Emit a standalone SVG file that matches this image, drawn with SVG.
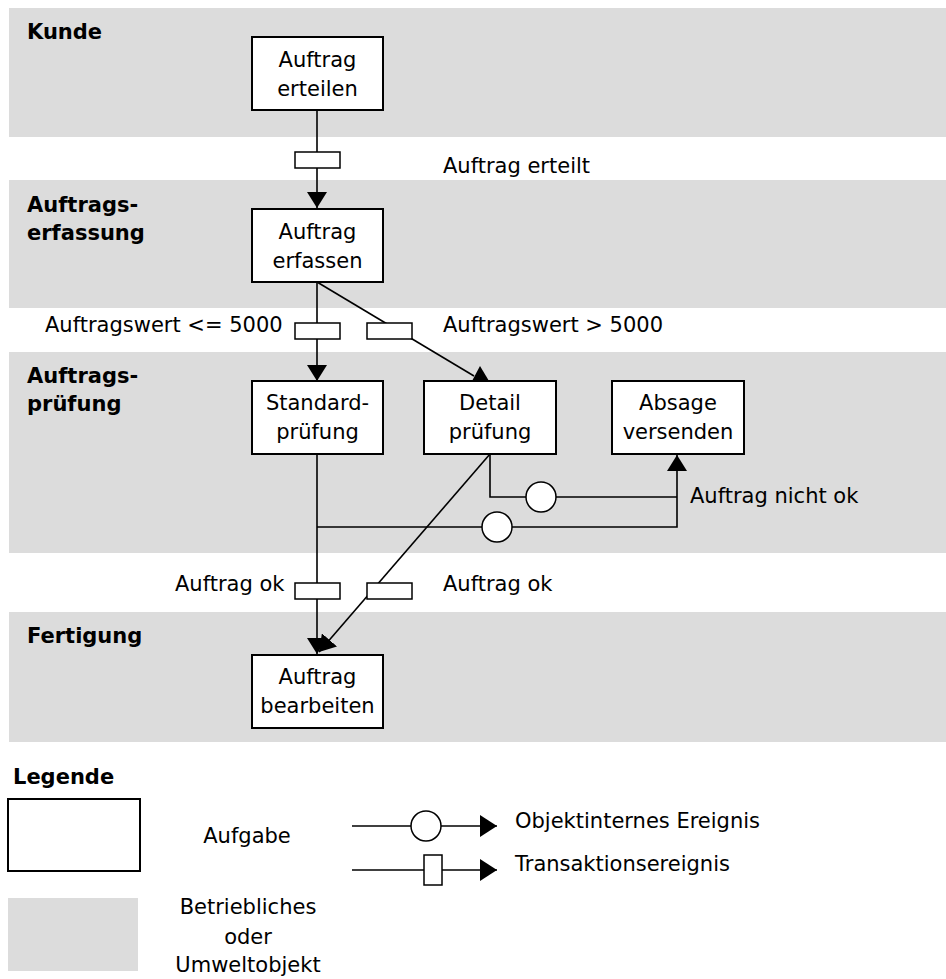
<svg xmlns="http://www.w3.org/2000/svg" width="946" height="979" viewBox="0 0 946 979">
  <style>
    .band { fill: #dcdcdc; }
    .task { fill: #ffffff; stroke: #000000; stroke-width: 2; }
    .ev { fill: #ffffff; stroke: #000000; stroke-width: 1.5; }
    .line { fill: none; stroke: #000000; stroke-width: 1.6; }
    .head { fill: #000000; }
    text { font-family: "DejaVu Sans", "Liberation Sans", sans-serif; font-size: 21px; fill: #000000; }
    .lane { font-weight: bold; }
    .mid { text-anchor: middle; }
  </style>
  <defs>
    <marker id="arrow" viewBox="0 0 16 20" refX="16" refY="10" markerWidth="16" markerHeight="20" markerUnits="userSpaceOnUse" orient="auto">
      <path d="M0,0 L16,10 L0,20 Z" fill="#000000"/>
    </marker>
    <marker id="arrowLg" viewBox="0 0 17 22" refX="17" refY="11" markerWidth="17" markerHeight="22" markerUnits="userSpaceOnUse" orient="auto">
      <path d="M0,0 L17,11 L0,22 Z" fill="#000000"/>
    </marker>
  </defs>

  <!-- organisational units (lanes) -->
  <g id="lane-kunde">
    <rect class="band" x="9" y="8" width="937" height="129"/>
    <text class="lane" x="27" y="39">Kunde</text>
  </g>
  <g id="lane-erfassung">
    <rect class="band" x="9" y="180" width="937" height="128"/>
    <text class="lane" x="27" y="212">Auftrags-</text>
    <text class="lane" x="27" y="240">erfassung</text>
  </g>
  <g id="lane-pruefung">
    <rect class="band" x="9" y="352" width="937" height="201"/>
    <text class="lane" x="27" y="383">Auftrags-</text>
    <text class="lane" x="27" y="411">prüfung</text>
  </g>
  <g id="lane-fertigung">
    <rect class="band" x="9" y="612" width="937" height="130"/>
    <text class="lane" x="27" y="643">Fertigung</text>
  </g>

  <!-- connectors -->
  <g id="connectors">
    <path class="line" d="M317,110 V208" marker-end="url(#arrow)"/>
    <path class="line" d="M317,282 V381" marker-end="url(#arrow)"/>
    <path class="line" d="M317,282 L474,376"/>
    <polygon class="head" points="472,381 489,381 480,366"/>
    <path class="line" d="M317,454 V654" marker-end="url(#arrow)"/>
    <path class="line" d="M490,454 L319,652" marker-end="url(#arrow)"/>
    <path class="line" d="M317,527 H677 V455" marker-end="url(#arrow)"/>
    <path class="line" d="M490,454 V497 H677"/>

    <!-- transaction events -->
    <rect class="ev" x="295" y="152" width="45" height="16"/>
    <rect class="ev" x="295" y="323" width="45" height="16"/>
    <rect class="ev" x="367" y="323" width="45" height="16"/>
    <rect class="ev" x="295" y="583" width="45" height="16"/>
    <rect class="ev" x="367" y="583" width="45" height="16"/>
    <!-- object-internal events -->
    <circle class="ev" cx="541" cy="497" r="15"/>
    <circle class="ev" cx="497" cy="527" r="15"/>
  </g>

  <!-- event labels -->
  <g id="event-labels">
    <text x="443" y="173">Auftrag erteilt</text>
    <text x="45" y="332">Auftragswert &lt;= 5000</text>
    <text x="443" y="332">Auftragswert &gt; 5000</text>
    <text x="690" y="503">Auftrag nicht ok</text>
    <text x="175" y="591">Auftrag ok</text>
    <text x="443" y="591">Auftrag ok</text>
  </g>

  <!-- tasks -->
  <g id="task-auftrag-erteilen">
    <rect class="task" x="252" y="37" width="131" height="73"/>
    <text class="mid" x="317.5" y="67">Auftrag</text>
    <text class="mid" x="317.5" y="96">erteilen</text>
  </g>
  <g id="task-auftrag-erfassen">
    <rect class="task" x="252" y="209" width="131" height="73"/>
    <text class="mid" x="317.5" y="239">Auftrag</text>
    <text class="mid" x="317.5" y="268">erfassen</text>
  </g>
  <g id="task-standardpruefung">
    <rect class="task" x="252" y="381" width="131" height="73"/>
    <text class="mid" x="317.5" y="410">Standard-</text>
    <text class="mid" x="317.5" y="439">prüfung</text>
  </g>
  <g id="task-detailpruefung">
    <rect class="task" x="424" y="381" width="132" height="73"/>
    <text class="mid" x="490" y="410">Detail</text>
    <text class="mid" x="490" y="439">prüfung</text>
  </g>
  <g id="task-absage-versenden">
    <rect class="task" x="612" y="381" width="132" height="73"/>
    <text class="mid" x="678" y="410">Absage</text>
    <text class="mid" x="678" y="439">versenden</text>
  </g>
  <g id="task-auftrag-bearbeiten">
    <rect class="task" x="252" y="655" width="131" height="73"/>
    <text class="mid" x="317.5" y="684">Auftrag</text>
    <text class="mid" x="317.5" y="713">bearbeiten</text>
  </g>

  <!-- legend -->
  <g id="legend">
    <text class="lane" x="13" y="784">Legende</text>
    <rect class="task" x="8" y="799" width="132" height="72"/>
    <text class="mid" x="247" y="843">Aufgabe</text>
    <rect class="band" x="8" y="898" width="130" height="73"/>
    <text class="mid" x="248" y="914">Betriebliches</text>
    <text class="mid" x="248" y="944">oder</text>
    <text class="mid" x="248" y="972">Umweltobjekt</text>

    <path class="line" d="M352,826 H497" marker-end="url(#arrowLg)"/>
    <circle class="ev" cx="426" cy="826" r="15"/>
    <text x="515" y="828">Objektinternes Ereignis</text>

    <path class="line" d="M352,870 H497" marker-end="url(#arrowLg)"/>
    <rect class="ev" x="424" y="855" width="18" height="30"/>
    <text x="515" y="871">Transaktionsereignis</text>
  </g>
</svg>
